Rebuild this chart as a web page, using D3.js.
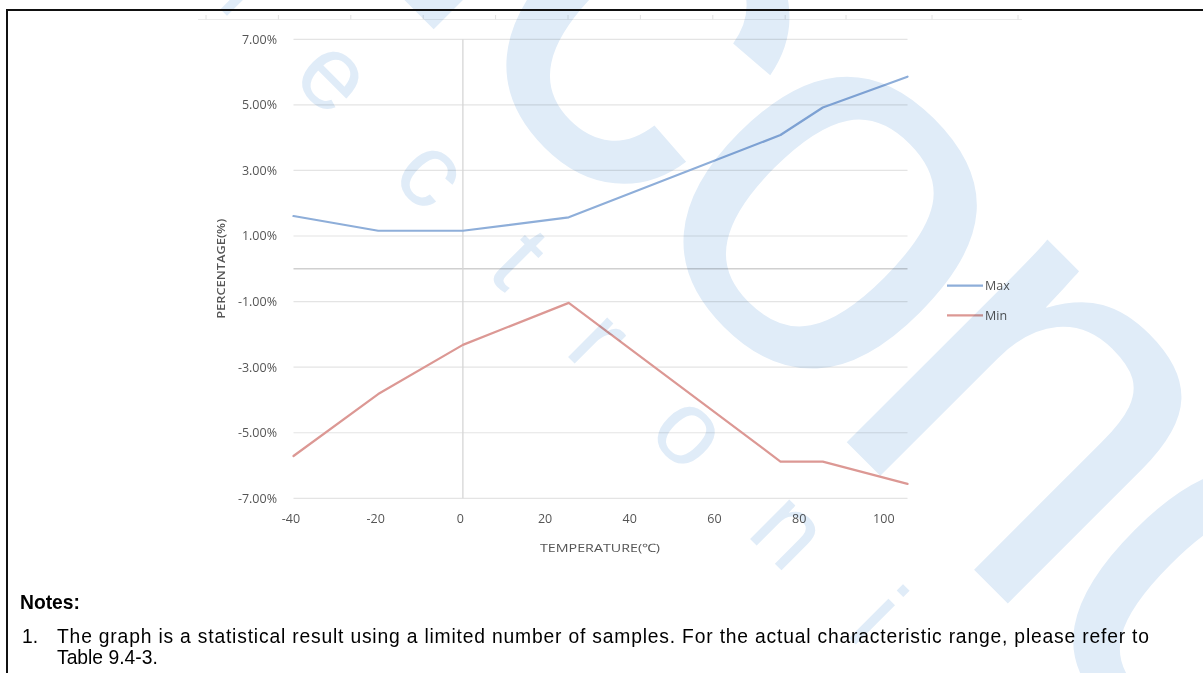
<!DOCTYPE html>
<html><head><meta charset="utf-8">
<script src="https://cdn.jsdelivr.net/npm/d3@7"></script>
<style>
body{margin:0;background:#fff;}
svg{display:block;}
</style></head><body>
<svg id="c" width="1203" height="673"></svg>
<script>
// ---- data ----
const temperatures = [-40, -20, 0, 25, 75, 85, 105];
const maxValues = [1.61, 1.16, 1.16, 1.57, 4.08, 4.92, 5.86];
const minValues = [-5.71, -3.82, -2.32, -1.04, -5.88, -5.88, -6.56];
const xTicks = [-40, -20, 0, 20, 40, 60, 80, 100];
const yTicks = [7, 5, 3, 1, -1, -3, -5, -7];
const seriesNames = ["Max", "Min"];
const seriesColors = ["#8eaed9", "#dc9894"];
const xTitle = "TEMPERATURE(\u2103)";
const yTitle = "PERCENTAGE(%)";
const notesTitle = "Notes:";
const noteNumber = "1.";
const noteLines = ["The graph is a statistical result using a limited number of samples. For the actual characteristic range, please refer to", "Table 9.4-3."];
const watermarkBig = "Semiconductor";
const watermarkSmall = "electronics";

const svg = d3.select("#c");
const W = 1203, H = 673;

const x = d3.scaleLinear().domain([-40, 105]).range([293.5, 907.5]);
const y = d3.scaleLinear().domain([-7, 7]).range([498.3, 39.3]);
const labelFont = "'Open Sans', 'Liberation Sans', sans-serif";
const labelColor = "#555555";

// faint ruler artifact at the top
const ruler = svg.append("g");
ruler.append("line").attr("x1", 198).attr("x2", 1022).attr("y1", 19.5).attr("y2", 19.5)
  .attr("stroke", "#ebebeb").attr("stroke-width", 1.2);
ruler.selectAll("line.t").data(d3.range(206, 800, 72.4).concat([846, 932, 1018])).join("line").attr("class", "t")
  .attr("x1", d => d).attr("x2", d => d).attr("y1", 15).attr("y2", 19.5)
  .attr("stroke", "#e2e2e2");

// grid
const grid = svg.append("g");
grid.selectAll("line").data(yTicks).join("line")
  .attr("x1", x.range()[0]).attr("x2", x.range()[1])
  .attr("y1", d => y(d)).attr("y2", d => y(d))
  .attr("stroke", "#e4e4e4").attr("stroke-width", 1.2);
// zero (category) axis line
svg.append("line").attr("x1", x.range()[0]).attr("x2", x.range()[1])
  .attr("y1", y(0)).attr("y2", y(0)).attr("stroke", "#d0d0d0").attr("stroke-width", 1.4);
// vertical value axis at 0
svg.append("line").attr("x1", x(0)).attr("x2", x(0))
  .attr("y1", y(7)).attr("y2", y(-7)).attr("stroke", "#d6d6d6").attr("stroke-width", 1.3);

// y labels
svg.append("g").selectAll("text").data(yTicks).join("text")
  .attr("x", 277).attr("y", d => y(d)).attr("dy", "0.35em")
  .attr("text-anchor", "end").attr("font-family", labelFont).attr("font-size", 12.5)
  .attr("fill", labelColor).text(d => d.toFixed(2) + "%");
// x labels
svg.append("g").selectAll("text").data(xTicks).join("text")
  .attr("x", d => x(d) - 2.5).attr("y", 519).attr("dy", "0.35em")
  .attr("text-anchor", "middle").attr("font-family", labelFont).attr("font-size", 12.5)
  .attr("fill", labelColor).text(d => String(d));

// axis titles
svg.append("text").attr("x", 600).attr("y", 548).attr("dy", "0.35em")
  .attr("text-anchor", "middle").attr("font-family", labelFont).attr("font-size", 11.5)
  .attr("fill", labelColor).attr("textLength", 120).attr("lengthAdjust", "spacingAndGlyphs").text(xTitle);
svg.append("text").attr("transform", `translate(221,${(y(7) + y(-7)) / 2}) rotate(-90)`)
  .attr("dy", "0.35em").attr("text-anchor", "middle").attr("font-family", labelFont)
  .attr("font-size", 10.5).attr("font-weight", 600).attr("fill", labelColor)
  .attr("textLength", 100).attr("lengthAdjust", "spacingAndGlyphs").text(yTitle);

// series
const series = [maxValues, minValues];
const line = d3.line().x((d, i) => x(temperatures[i])).y(d => y(d));
svg.append("g").selectAll("path").data(series).join("path")
  .attr("d", d => line(d)).attr("fill", "none")
  .attr("stroke", (d, i) => seriesColors[i]).attr("stroke-width", 2.2)
  .attr("stroke-linejoin", "round").attr("stroke-linecap", "round");

// legend
const leg = svg.append("g").selectAll("g").data(seriesNames).join("g")
  .attr("transform", (d, i) => `translate(947,${285.7 + i * 29.6})`);
leg.append("line").attr("x1", 0).attr("x2", 36).attr("stroke", (d, i) => seriesColors[i]).attr("stroke-width", 2.2);
leg.append("text").attr("x", 38).attr("dy", "0.35em").attr("font-family", labelFont)
  .attr("font-size", 12.5).attr("fill", labelColor).text(d => d);

// notes (first line stretched to the right margin)
const noteFont = "'Liberation Sans', Arial, sans-serif";
const fs = 19.3;
svg.append("text").attr("x", 20).attr("y", 609).attr("font-family", noteFont)
  .attr("font-size", fs).attr("font-weight", "bold").attr("fill", "#000").text(notesTitle);
svg.append("text").attr("x", 22).attr("y", 643).attr("font-family", noteFont)
  .attr("font-size", fs).attr("fill", "#000").text(noteNumber);
const notes = svg.selectAll("text.note").data(noteLines).join("text").attr("class", "note")
  .attr("x", 57).attr("y", (d, i) => 643 + i * 20.5).attr("font-family", noteFont)
  .attr("font-size", fs).attr("fill", "#000").text(d => d);
notes.filter((d, i) => i === 0).attr("textLength", 1092).attr("lengthAdjust", "spacing");

// watermark (on top, multiply)
const wm = svg.append("g").style("mix-blend-mode", "multiply").attr("fill", "#e0ecf8");
function placeRotated(txt, idx, cx, cy, size, spacing) {
  const g = wm.append("g").attr("transform", `translate(${cx},${cy}) rotate(45)`);
  const t = g.append("text").attr("font-family", noteFont).attr("font-size", size)
    .attr("letter-spacing", spacing).attr("x", 0).attr("y", 0.26 * size).text(txt);
  const tmp = g.append("text").attr("font-family", noteFont).attr("font-size", size).text(txt[idx]);
  const w = tmp.node().getComputedTextLength();
  tmp.remove();
  const s = t.node().getStartPositionOfChar(idx).x;
  t.attr("x", -(s + w / 2));
}
placeRotated(watermarkBig, 4, 640, 37, 540, -20);
placeRotated(watermarkSmall, 2, 330, 80, 105, 82);

// page border
svg.append("path").attr("d", `M7,${H} V10 H${W}`).attr("fill", "none")
  .attr("stroke", "#111").attr("stroke-width", 2);
</script>
</body></html>
